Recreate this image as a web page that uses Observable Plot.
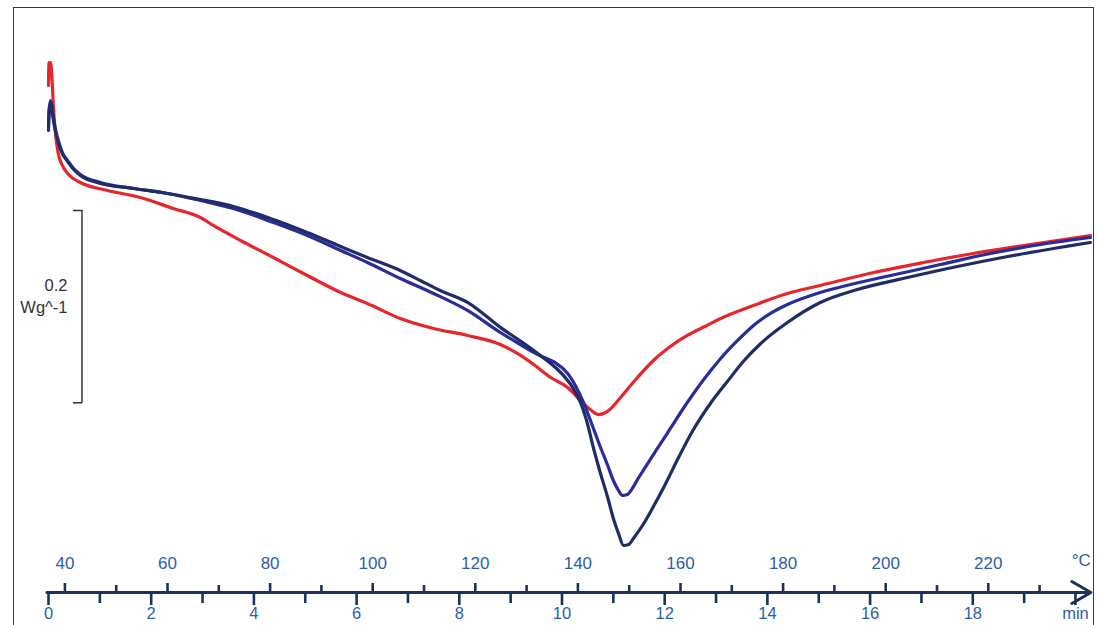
<!DOCTYPE html>
<html><head><meta charset="utf-8">
<script src="https://cdn.jsdelivr.net/npm/d3@7"></script>
<script src="https://cdn.jsdelivr.net/npm/@observablehq/plot@0.6"></script>
<style>
html,body{margin:0;padding:0;background:#fff;overflow:hidden}
#wrap{position:relative;width:1098px;height:625px;overflow:hidden;background:#fff}
#frame{position:absolute;left:13px;top:7px;width:1079px;height:660px;border:1.5px solid #3a3a3a;border-bottom:none;pointer-events:none}
svg{display:block}
</style></head><body><div id="wrap"><div id="frame"></div></div>
<script>
// Heating program: temperature (°C) at t = 0 and rate (°C/min)
const T0 = 36.8, rate = 10.01;
const minTicks = [0, 2, 4, 6, 8, 10, 12, 14, 16, 18, 20];
const minMinor = [1, 3, 5, 7, 9, 11, 13, 15, 17, 19];
const tempTicks = [40, 60, 80, 100, 120, 140, 160, 180, 200, 220];
const tempMinor = [50, 70, 90, 110, 130, 150, 170, 190, 210, 230];

// DSC heat flow curves: time (min) and heat flow (W/g)
const redTime = [0.00,0.01,0.04,0.07,0.10,0.14,0.19,0.27,0.39,0.62,1.15,1.79,2.43,2.96,3.21,3.74,4.38,5.04,5.69,6.21,6.85,7.50,8.16,8.80,9.13,9.45,9.78,10.11,10.36,10.55,10.71,10.85,10.99,11.14,11.47,11.78,12.11,12.44,12.76,13.09,13.73,14.39,15.03,16.07,17.04,18.01,18.99,20.29];
const redFlow = [0.2116,0.2355,0.2355,0.2168,0.1856,0.1596,0.1409,0.1284,0.1190,0.1107,0.1024,0.0951,0.0837,0.0743,0.0660,0.0504,0.0327,0.0140,-0.0037,-0.0151,-0.0307,-0.0411,-0.0484,-0.0578,-0.0671,-0.0786,-0.0921,-0.1025,-0.1160,-0.1254,-0.1306,-0.1285,-0.1223,-0.1129,-0.0921,-0.0744,-0.0599,-0.0484,-0.0396,-0.0307,-0.0172,-0.0047,0.0036,0.0171,0.0275,0.0369,0.0452,0.0556];

const blueTime = [0.00,0.01,0.04,0.08,0.12,0.18,0.27,0.37,0.49,0.62,1.01,1.66,2.32,2.96,3.60,4.38,5.04,5.69,6.21,6.85,7.50,8.16,8.80,9.45,10.11,10.26,10.42,10.59,10.75,10.89,11.00,11.10,11.18,11.27,11.37,11.47,11.63,11.78,11.96,12.11,12.44,12.76,13.09,13.42,13.73,14.06,14.39,15.03,15.62,16.40,17.37,18.34,19.32,20.29];
const blueFlow = [0.1648,0.1856,0.1960,0.1835,0.1700,0.1565,0.1419,0.1336,0.1253,0.1190,0.1107,0.1045,0.0993,0.0920,0.0837,0.0691,0.0556,0.0400,0.0275,0.0109,-0.0047,-0.0224,-0.0453,-0.0661,-0.0879,-0.1004,-0.1181,-0.1420,-0.1649,-0.1836,-0.1992,-0.2096,-0.2148,-0.2138,-0.2075,-0.1982,-0.1847,-0.1722,-0.1576,-0.1451,-0.1181,-0.0942,-0.0723,-0.0536,-0.0380,-0.0255,-0.0162,-0.0037,0.0046,0.0140,0.0254,0.0369,0.0462,0.0535];

const navyTime = [0.00,0.02,0.05,0.08,0.12,0.18,0.27,0.37,0.49,0.62,1.01,1.66,2.32,2.96,3.60,4.38,5.04,5.69,6.21,6.85,7.24,7.63,8.16,8.80,9.45,10.11,10.22,10.36,10.50,10.61,10.75,10.89,11.00,11.10,11.20,11.30,11.39,11.58,11.78,11.98,12.25,12.56,12.89,13.22,13.53,13.87,14.39,15.03,15.75,16.73,17.70,18.68,20.29];
const navyFlow = [0.1690,0.1877,0.1939,0.1815,0.1679,0.1544,0.1409,0.1326,0.1242,0.1180,0.1097,0.1045,0.0993,0.0930,0.0858,0.0722,0.0587,0.0442,0.0327,0.0192,0.0088,-0.0016,-0.0140,-0.0400,-0.0640,-0.0952,-0.1035,-0.1181,-0.1410,-0.1649,-0.1919,-0.2169,-0.2387,-0.2543,-0.2668,-0.2658,-0.2595,-0.2450,-0.2263,-0.2065,-0.1774,-0.1462,-0.1191,-0.0963,-0.0755,-0.0567,-0.0349,-0.0141,-0.0006,0.0119,0.0233,0.0337,0.0483];

const seriesNames = ["Sample 1", "Sample 2", "Sample 3"];
const seriesColors = ["#e5262b", "#2a2c9c", "#1e2d66"];

const series = [
  {name: "Sample 1", time: redTime, flow: redFlow},
  {name: "Sample 2", time: blueTime, flow: blueFlow},
  {name: "Sample 3", time: navyTime, flow: navyFlow}
];
const rows = series.flatMap(s => s.time.map((t, i) => ({series: s.name, t, flow: s.flow[i]})));

// y scale (W/g)
const yMin = -0.3157, yMax = 0.30;
const unitsPerPx = (yMax - yMin) / 592;
// scale bar: 0.2 W/g
const barLen = 0.2, barTop = 0.0816, barX = 0.652, barTickX = 0.487;

const toMin = T => (T - T0) / rate;
const axisStroke = "#1b3354";
const labelFill = "#2d5ea8";
const font = "'Liberation Sans', Arial, sans-serif";

const chart = Plot.plot({
  width: 1098, height: 625,
  marginLeft: 48, marginRight: 23, marginTop: 0, marginBottom: 33,
  x: {domain: [0, 20]},
  y: {domain: [yMin, yMax], axis: null},
  color: {domain: seriesNames, range: seriesColors},
  style: {fontFamily: font, background: "transparent", overflow: "visible"},
  marks: [
    // 0.2 W/g scale bar
    Plot.ruleX([{x: barX, y1: barTop, y2: barTop - barLen}], {x: "x", y1: "y1", y2: "y2", stroke: "#333", strokeWidth: 1.5}),
    Plot.ruleY([barTop, barTop - barLen], {x1: () => barTickX, x2: () => barX + 0.015, stroke: "#333", strokeWidth: 1.5}),
    Plot.text([{x: 0.37, y: barTop - barLen / 2 + 0.022, s: "0.2"}, {x: 0.37, y: barTop - barLen / 2 - 0.0015, s: "Wg^-1"}],
      {x: "x", y: "y", text: "s", textAnchor: "end", fontSize: 16.5, fill: "#333"}),
    // curves
    Plot.line(rows, {x: "t", y: "flow", z: "series", stroke: "series", strokeWidth: 3.2, curve: "monotone-x", strokeLinejoin: "round", strokeLinecap: "round"}),
    // time axis line with arrow
    Plot.arrow([{x1: -0.03, x2: 20.3}], {x1: "x1", x2: "x2", y1: () => yMin, y2: () => yMin, stroke: axisStroke, strokeWidth: 3, headLength: 11}),
    // minute ticks (down)
    Plot.axisX(minTicks, {anchor: "bottom", tickSize: 13, tickPadding: 2, strokeWidth: 2.6, stroke: axisStroke, fill: labelFill, fontSize: 16.5,
      tickFormat: d => d === 20 ? "min" : String(d), label: null}),
    Plot.axisX(minMinor, {anchor: "bottom", tickSize: 11, strokeWidth: 2.6, stroke: axisStroke, tickFormat: () => "", label: null}),
    // temperature ticks (up)
    Plot.ruleX(tempTicks, {x: toMin, y1: () => yMin, y2: () => yMin + 9 * unitsPerPx, stroke: axisStroke, strokeWidth: 2.6}),
    Plot.ruleX(tempMinor, {x: toMin, y1: () => yMin, y2: () => yMin + 7 * unitsPerPx, stroke: axisStroke, strokeWidth: 2.6}),
    Plot.text(tempTicks, {x: toMin, text: d => String(d), frameAnchor: "bottom", dy: -24, fill: labelFill, fontSize: 17}),
    Plot.text(["°C"], {x: () => toMin(240), text: d => d, frameAnchor: "bottom", dy: -27, textAnchor: "end", fill: labelFill, fontSize: 17})
  ]
});
document.getElementById("wrap").prepend(chart);
</script>
</body></html>
